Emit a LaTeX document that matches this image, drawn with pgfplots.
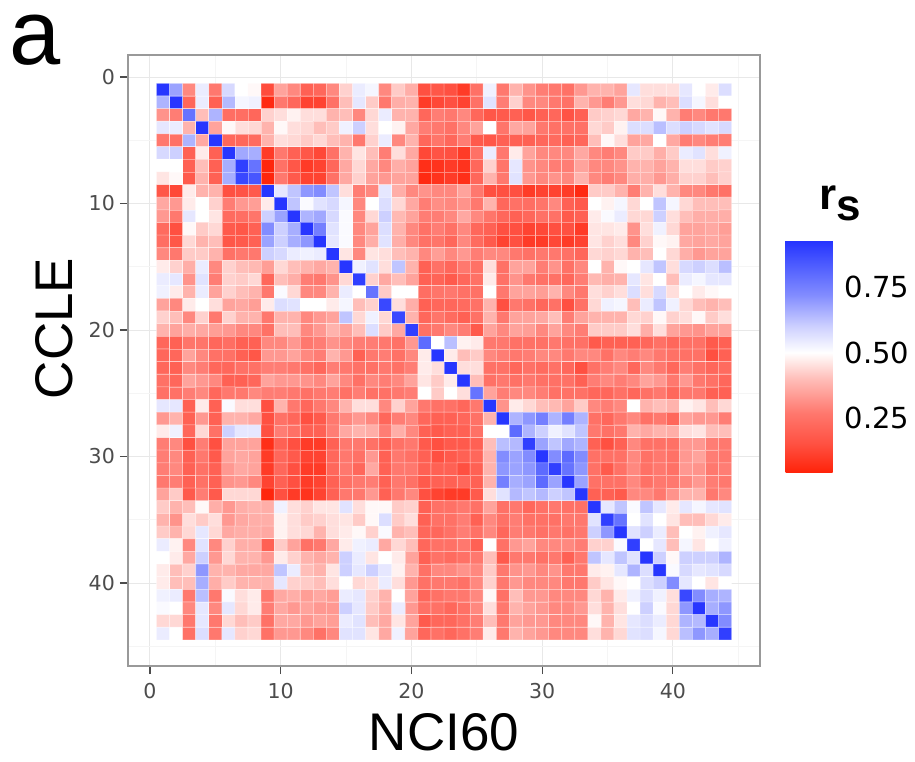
\documentclass[border=0pt]{standalone}
\usepackage{pgfplots}
\pgfplotsset{compat=1.18}
\usepackage{fontspec}
\setmainfont{Liberation Sans}
\newfontfamily\dejavu{DejaVu Sans}
\definecolor{tickgray}{gray}{0.3}
\definecolor{framegray}{gray}{0.6}
\definecolor{gridmaj}{gray}{0.91}
\definecolor{gridmin}{gray}{0.96}
\pgfplotsset{colormap={rs}{rgb255(4pt)=(255,34,8) rgb255(15pt)=(255,80,65) rgb255(27pt)=(255,120,110) rgb255(40pt)=(255,190,185) rgb255(50pt)=(255,255,255) rgb255(60pt)=(205,208,255) rgb255(72pt)=(130,140,255) rgb255(84pt)=(75,90,255) rgb255(93pt)=(35,50,255)}}
\begin{document}
\begin{tikzpicture}[x=1pt,y=1pt]
\useasboundingbox (0,0) rectangle (915,762);
\begin{axis}[
  at={(128pt,96pt)}, anchor=south west,
  scale only axis, width=632pt, height=611pt,
  xmin=-1.68, xmax=46.67, ymin=-1.74, ymax=46.56, y dir=reverse,
  xtick={0,10,20,30,40}, ytick={0,10,20,30,40},
  xticklabels={0,10,20,30,40}, yticklabels={0,10,20,30,40},
  minor xtick={5,15,25,35,45}, minor ytick={5,15,25,35,45},
  grid=both, major grid style={gridmaj, line width=1pt}, minor grid style={gridmin, line width=0.6pt},
  tick align=outside, tick pos=left, major tick length=8pt, minor tick length=0pt,
  major tick style={tickgray, line width=1.1pt},
  axis line style={framegray, line width=1.1pt},
  xticklabel style={font=\dejavu\fontsize{20.5}{24}\selectfont, text=tickgray, anchor=north, inner sep=0pt, yshift=-9pt},
  yticklabel style={font=\dejavu\fontsize{20.5}{24}\selectfont, text=tickgray, anchor=east, inner sep=0pt, xshift=-5pt},
  xlabel={NCI60}, ylabel={CCLE},
  xlabel style={at={(axis description cs:0.5,0)}, anchor=base, yshift=-84pt, inner sep=0pt, font=\fontsize{53}{60}\selectfont},
  ylabel style={at={(axis description cs:0,0.5)}, anchor=base, yshift=56pt, xshift=32pt, inner sep=0pt, font=\fontsize{53}{60}\selectfont},
  colorbar, colormap name=rs, point meta min=0.04, point meta max=0.93,
  colorbar/width=47pt,
  colorbar style={
    at={(parent axis.north east)}, anchor=north west, xshift=17pt, yshift=-185pt,
    scale only axis=true, width=47pt, height=233pt,
    ytick={0.25,0.5,0.75}, yticklabels={0.25,0.50,0.75},
    yticklabel style={font=\dejavu\fontsize{29}{34}\selectfont, text=black, anchor=west, inner sep=0pt, xshift=12pt},
    axis line style={draw=none}, major tick length=0pt,
  },
]
\addplot[matrix plot*, draw=white, draw opacity=0.4, line width=0.6pt, mesh/cols=44, point meta=explicit]
 table[header=false, row sep=\\, x expr={\coordindex-44*floor((\coordindex+0.5)/44)+1}, y expr={floor((\coordindex+0.5)/44)+1}, meta index=0] {
0.92\\0.68\\0.3\\0.54\\0.27\\0.58\\0.5\\0.49\\0.14\\0.35\\0.3\\0.2\\0.22\\0.3\\0.43\\0.54\\0.52\\0.3\\0.42\\0.37\\0.15\\0.17\\0.15\\0.1\\0.25\\0.53\\0.27\\0.38\\0.32\\0.28\\0.27\\0.25\\0.33\\0.38\\0.38\\0.35\\0.55\\0.45\\0.45\\0.45\\0.55\\0.5\\0.47\\0.57\\
0.65\\0.92\\0.22\\0.54\\0.2\\0.64\\0.52\\0.53\\0.06\\0.27\\0.22\\0.12\\0.12\\0.25\\0.4\\0.55\\0.42\\0.27\\0.37\\0.38\\0.1\\0.13\\0.15\\0.12\\0.25\\0.56\\0.28\\0.43\\0.3\\0.3\\0.27\\0.25\\0.38\\0.33\\0.28\\0.33\\0.45\\0.44\\0.38\\0.4\\0.57\\0.52\\0.45\\0.5\\
0.32\\0.28\\0.78\\0.4\\0.65\\0.24\\0.24\\0.22\\0.43\\0.45\\0.48\\0.45\\0.45\\0.38\\0.4\\0.3\\0.44\\0.54\\0.38\\0.38\\0.22\\0.28\\0.27\\0.3\\0.22\\0.17\\0.18\\0.2\\0.17\\0.2\\0.22\\0.16\\0.2\\0.42\\0.43\\0.44\\0.36\\0.38\\0.49\\0.38\\0.28\\0.3\\0.27\\0.27\\
0.55\\0.54\\0.38\\0.92\\0.35\\0.49\\0.45\\0.44\\0.38\\0.49\\0.45\\0.44\\0.4\\0.42\\0.53\\0.6\\0.45\\0.5\\0.48\\0.36\\0.28\\0.27\\0.25\\0.3\\0.35\\0.5\\0.26\\0.36\\0.35\\0.27\\0.25\\0.25\\0.25\\0.44\\0.42\\0.48\\0.57\\0.57\\0.63\\0.57\\0.6\\0.58\\0.56\\0.58\\
0.27\\0.25\\0.65\\0.36\\0.92\\0.22\\0.22\\0.23\\0.38\\0.45\\0.44\\0.42\\0.44\\0.4\\0.38\\0.27\\0.43\\0.54\\0.3\\0.38\\0.22\\0.26\\0.22\\0.28\\0.18\\0.17\\0.2\\0.2\\0.2\\0.22\\0.23\\0.2\\0.22\\0.4\\0.49\\0.45\\0.35\\0.36\\0.5\\0.36\\0.28\\0.3\\0.28\\0.28\\
0.58\\0.6\\0.2\\0.47\\0.2\\0.92\\0.67\\0.66\\0.1\\0.27\\0.2\\0.17\\0.13\\0.25\\0.38\\0.46\\0.4\\0.28\\0.45\\0.36\\0.13\\0.16\\0.15\\0.1\\0.25\\0.54\\0.27\\0.47\\0.35\\0.3\\0.3\\0.3\\0.36\\0.3\\0.28\\0.3\\0.42\\0.42\\0.37\\0.42\\0.54\\0.56\\0.45\\0.53\\
0.5\\0.5\\0.2\\0.4\\0.2\\0.66\\0.9\\0.78\\0.05\\0.25\\0.17\\0.1\\0.12\\0.22\\0.36\\0.44\\0.36\\0.3\\0.37\\0.35\\0.07\\0.08\\0.1\\0.08\\0.22\\0.43\\0.26\\0.55\\0.32\\0.3\\0.28\\0.28\\0.35\\0.3\\0.3\\0.32\\0.38\\0.38\\0.35\\0.38\\0.45\\0.45\\0.42\\0.43\\
0.46\\0.49\\0.18\\0.38\\0.2\\0.66\\0.88\\0.85\\0.05\\0.27\\0.18\\0.12\\0.12\\0.25\\0.36\\0.43\\0.35\\0.33\\0.35\\0.35\\0.06\\0.08\\0.1\\0.07\\0.22\\0.38\\0.27\\0.56\\0.33\\0.3\\0.32\\0.3\\0.38\\0.3\\0.28\\0.3\\0.37\\0.37\\0.33\\0.37\\0.43\\0.43\\0.4\\0.43\\
0.17\\0.13\\0.47\\0.38\\0.38\\0.15\\0.16\\0.18\\0.92\\0.55\\0.62\\0.7\\0.72\\0.62\\0.45\\0.28\\0.3\\0.55\\0.37\\0.3\\0.32\\0.3\\0.3\\0.35\\0.27\\0.15\\0.15\\0.15\\0.1\\0.12\\0.12\\0.1\\0.06\\0.42\\0.42\\0.38\\0.28\\0.38\\0.45\\0.38\\0.3\\0.3\\0.27\\0.25\\
0.36\\0.33\\0.47\\0.5\\0.43\\0.28\\0.33\\0.34\\0.47\\0.92\\0.62\\0.51\\0.56\\0.58\\0.52\\0.3\\0.5\\0.57\\0.44\\0.36\\0.28\\0.31\\0.3\\0.32\\0.27\\0.38\\0.22\\0.25\\0.24\\0.26\\0.3\\0.2\\0.18\\0.5\\0.48\\0.52\\0.44\\0.5\\0.62\\0.52\\0.44\\0.4\\0.4\\0.4\\
0.33\\0.27\\0.55\\0.5\\0.46\\0.23\\0.24\\0.26\\0.6\\0.68\\0.92\\0.65\\0.67\\0.58\\0.51\\0.3\\0.44\\0.6\\0.39\\0.35\\0.28\\0.28\\0.3\\0.36\\0.3\\0.26\\0.22\\0.2\\0.22\\0.25\\0.25\\0.18\\0.2\\0.47\\0.51\\0.54\\0.44\\0.44\\0.6\\0.45\\0.4\\0.37\\0.37\\0.37\\
0.23\\0.15\\0.49\\0.42\\0.44\\0.18\\0.17\\0.2\\0.72\\0.6\\0.66\\0.92\\0.75\\0.56\\0.51\\0.3\\0.35\\0.57\\0.38\\0.3\\0.25\\0.28\\0.25\\0.3\\0.22\\0.2\\0.15\\0.15\\0.12\\0.13\\0.15\\0.15\\0.1\\0.46\\0.46\\0.47\\0.32\\0.45\\0.53\\0.44\\0.35\\0.35\\0.36\\0.34\\
0.24\\0.17\\0.44\\0.38\\0.4\\0.17\\0.18\\0.2\\0.68\\0.6\\0.66\\0.7\\0.92\\0.55\\0.51\\0.3\\0.37\\0.56\\0.37\\0.3\\0.25\\0.26\\0.22\\0.3\\0.23\\0.18\\0.12\\0.15\\0.1\\0.1\\0.13\\0.1\\0.12\\0.46\\0.43\\0.45\\0.3\\0.43\\0.49\\0.48\\0.36\\0.35\\0.36\\0.35\\
0.3\\0.27\\0.42\\0.42\\0.38\\0.25\\0.27\\0.27\\0.6\\0.58\\0.54\\0.53\\0.54\\0.92\\0.46\\0.3\\0.46\\0.45\\0.4\\0.38\\0.3\\0.34\\0.3\\0.33\\0.28\\0.3\\0.3\\0.27\\0.25\\0.27\\0.27\\0.25\\0.22\\0.44\\0.43\\0.44\\0.38\\0.4\\0.5\\0.44\\0.37\\0.33\\0.35\\0.35\\
0.47\\0.43\\0.37\\0.54\\0.3\\0.43\\0.4\\0.39\\0.34\\0.44\\0.4\\0.38\\0.36\\0.38\\0.92\\0.53\\0.56\\0.45\\0.62\\0.38\\0.2\\0.25\\0.22\\0.27\\0.25\\0.45\\0.25\\0.35\\0.35\\0.28\\0.32\\0.25\\0.3\\0.5\\0.38\\0.49\\0.5\\0.55\\0.62\\0.45\\0.58\\0.6\\0.57\\0.63\\
0.54\\0.55\\0.32\\0.56\\0.28\\0.43\\0.42\\0.44\\0.22\\0.4\\0.37\\0.28\\0.27\\0.32\\0.44\\0.9\\0.43\\0.36\\0.4\\0.35\\0.2\\0.21\\0.18\\0.22\\0.25\\0.47\\0.25\\0.32\\0.27\\0.25\\0.25\\0.22\\0.28\\0.39\\0.37\\0.38\\0.55\\0.46\\0.5\\0.4\\0.54\\0.52\\0.55\\0.55\\
0.53\\0.47\\0.38\\0.54\\0.35\\0.43\\0.4\\0.38\\0.27\\0.51\\0.44\\0.3\\0.3\\0.38\\0.54\\0.5\\0.78\\0.42\\0.5\\0.5\\0.24\\0.26\\0.27\\0.25\\0.25\\0.5\\0.27\\0.35\\0.35\\0.34\\0.38\\0.3\\0.27\\0.45\\0.43\\0.45\\0.57\\0.45\\0.58\\0.45\\0.5\\0.47\\0.49\\0.5\\
0.35\\0.3\\0.47\\0.5\\0.45\\0.35\\0.36\\0.34\\0.47\\0.57\\0.56\\0.5\\0.5\\0.47\\0.52\\0.4\\0.43\\0.88\\0.45\\0.37\\0.2\\0.22\\0.22\\0.23\\0.25\\0.38\\0.15\\0.27\\0.25\\0.22\\0.25\\0.15\\0.25\\0.44\\0.53\\0.52\\0.4\\0.54\\0.62\\0.53\\0.44\\0.4\\0.38\\0.4\\
0.43\\0.4\\0.3\\0.43\\0.27\\0.43\\0.38\\0.38\\0.27\\0.38\\0.38\\0.3\\0.33\\0.35\\0.62\\0.44\\0.53\\0.44\\0.88\\0.38\\0.22\\0.26\\0.23\\0.2\\0.25\\0.38\\0.27\\0.35\\0.35\\0.36\\0.4\\0.28\\0.35\\0.38\\0.38\\0.38\\0.44\\0.43\\0.49\\0.43\\0.45\\0.49\\0.42\\0.45\\
0.38\\0.35\\0.37\\0.36\\0.34\\0.33\\0.3\\0.3\\0.25\\0.4\\0.4\\0.3\\0.33\\0.38\\0.35\\0.4\\0.57\\0.42\\0.36\\0.9\\0.25\\0.27\\0.3\\0.28\\0.18\\0.35\\0.3\\0.35\\0.34\\0.3\\0.35\\0.3\\0.28\\0.42\\0.42\\0.42\\0.45\\0.37\\0.45\\0.35\\0.33\\0.32\\0.35\\0.35\\
0.22\\0.2\\0.26\\0.26\\0.22\\0.24\\0.2\\0.2\\0.3\\0.3\\0.33\\0.27\\0.28\\0.32\\0.3\\0.28\\0.28\\0.27\\0.25\\0.33\\0.8\\0.5\\0.63\\0.48\\0.47\\0.27\\0.27\\0.25\\0.25\\0.25\\0.27\\0.25\\0.25\\0.18\\0.2\\0.2\\0.2\\0.22\\0.25\\0.22\\0.25\\0.25\\0.18\\0.2\\
0.22\\0.22\\0.35\\0.3\\0.25\\0.25\\0.2\\0.17\\0.33\\0.33\\0.35\\0.3\\0.28\\0.38\\0.33\\0.2\\0.27\\0.28\\0.25\\0.3\\0.47\\0.92\\0.47\\0.4\\0.42\\0.3\\0.28\\0.27\\0.28\\0.3\\0.3\\0.27\\0.3\\0.3\\0.25\\0.3\\0.28\\0.3\\0.27\\0.25\\0.25\\0.25\\0.15\\0.2\\
0.22\\0.2\\0.3\\0.28\\0.22\\0.22\\0.25\\0.25\\0.28\\0.28\\0.27\\0.25\\0.22\\0.28\\0.27\\0.25\\0.25\\0.27\\0.25\\0.28\\0.47\\0.45\\0.92\\0.45\\0.45\\0.25\\0.25\\0.22\\0.25\\0.23\\0.25\\0.22\\0.15\\0.25\\0.28\\0.3\\0.22\\0.3\\0.27\\0.22\\0.28\\0.25\\0.22\\0.23\\
0.25\\0.22\\0.35\\0.33\\0.3\\0.2\\0.2\\0.22\\0.35\\0.33\\0.33\\0.32\\0.3\\0.35\\0.3\\0.25\\0.3\\0.28\\0.3\\0.35\\0.46\\0.42\\0.47\\0.92\\0.4\\0.25\\0.27\\0.25\\0.27\\0.25\\0.25\\0.25\\0.2\\0.28\\0.3\\0.28\\0.3\\0.35\\0.33\\0.27\\0.33\\0.27\\0.25\\0.22\\
0.25\\0.25\\0.28\\0.3\\0.22\\0.27\\0.27\\0.3\\0.28\\0.28\\0.27\\0.25\\0.27\\0.28\\0.25\\0.28\\0.25\\0.25\\0.27\\0.28\\0.5\\0.42\\0.5\\0.45\\0.78\\0.35\\0.28\\0.3\\0.3\\0.28\\0.25\\0.25\\0.25\\0.22\\0.22\\0.25\\0.22\\0.25\\0.27\\0.22\\0.27\\0.27\\0.2\\0.2\\
0.55\\0.55\\0.2\\0.47\\0.2\\0.51\\0.45\\0.45\\0.15\\0.38\\0.27\\0.22\\0.27\\0.3\\0.38\\0.45\\0.45\\0.3\\0.43\\0.35\\0.27\\0.25\\0.25\\0.22\\0.27\\0.92\\0.32\\0.47\\0.44\\0.4\\0.39\\0.35\\0.42\\0.3\\0.28\\0.3\\0.5\\0.38\\0.4\\0.38\\0.48\\0.46\\0.4\\0.44\\
0.33\\0.38\\0.2\\0.33\\0.2\\0.38\\0.38\\0.36\\0.15\\0.25\\0.22\\0.15\\0.18\\0.27\\0.3\\0.33\\0.3\\0.22\\0.28\\0.3\\0.22\\0.2\\0.2\\0.22\\0.25\\0.38\\0.92\\0.65\\0.7\\0.75\\0.65\\0.75\\0.65\\0.25\\0.22\\0.27\\0.3\\0.25\\0.27\\0.22\\0.35\\0.33\\0.33\\0.28\\
0.47\\0.53\\0.22\\0.44\\0.25\\0.6\\0.55\\0.55\\0.15\\0.28\\0.25\\0.2\\0.2\\0.28\\0.36\\0.38\\0.37\\0.28\\0.37\\0.3\\0.2\\0.18\\0.2\\0.2\\0.25\\0.5\\0.5\\0.8\\0.65\\0.6\\0.53\\0.56\\0.62\\0.27\\0.25\\0.27\\0.38\\0.36\\0.38\\0.37\\0.45\\0.46\\0.4\\0.4\\
0.28\\0.3\\0.15\\0.28\\0.15\\0.35\\0.35\\0.35\\0.07\\0.2\\0.15\\0.1\\0.1\\0.2\\0.27\\0.27\\0.25\\0.2\\0.25\\0.27\\0.18\\0.15\\0.18\\0.18\\0.2\\0.4\\0.63\\0.64\\0.9\\0.68\\0.62\\0.67\\0.65\\0.2\\0.15\\0.2\\0.3\\0.25\\0.25\\0.25\\0.33\\0.33\\0.28\\0.27\\
0.28\\0.3\\0.2\\0.27\\0.18\\0.35\\0.36\\0.35\\0.1\\0.22\\0.18\\0.12\\0.12\\0.22\\0.27\\0.25\\0.33\\0.2\\0.27\\0.25\\0.2\\0.15\\0.18\\0.2\\0.22\\0.38\\0.72\\0.68\\0.72\\0.92\\0.72\\0.8\\0.72\\0.25\\0.25\\0.25\\0.3\\0.25\\0.27\\0.25\\0.33\\0.35\\0.28\\0.27\\
0.28\\0.3\\0.2\\0.25\\0.2\\0.33\\0.36\\0.35\\0.1\\0.22\\0.15\\0.1\\0.1\\0.22\\0.27\\0.22\\0.36\\0.2\\0.27\\0.27\\0.2\\0.2\\0.2\\0.15\\0.2\\0.38\\0.7\\0.68\\0.7\\0.8\\0.9\\0.78\\0.7\\0.25\\0.18\\0.25\\0.3\\0.25\\0.27\\0.25\\0.33\\0.32\\0.27\\0.28\\
0.27\\0.28\\0.2\\0.25\\0.2\\0.32\\0.33\\0.3\\0.12\\0.2\\0.15\\0.1\\0.12\\0.2\\0.25\\0.27\\0.28\\0.2\\0.27\\0.25\\0.18\\0.2\\0.2\\0.22\\0.2\\0.38\\0.75\\0.66\\0.68\\0.8\\0.68\\0.92\\0.68\\0.25\\0.25\\0.25\\0.3\\0.25\\0.27\\0.27\\0.3\\0.33\\0.28\\0.27\\
0.35\\0.42\\0.18\\0.28\\0.18\\0.44\\0.44\\0.44\\0.05\\0.15\\0.1\\0.08\\0.12\\0.2\\0.27\\0.27\\0.33\\0.2\\0.27\\0.3\\0.15\\0.12\\0.1\\0.1\\0.18\\0.45\\0.56\\0.64\\0.62\\0.64\\0.6\\0.62\\0.92\\0.2\\0.2\\0.18\\0.3\\0.3\\0.27\\0.32\\0.38\\0.38\\0.27\\0.3\\
0.42\\0.38\\0.4\\0.49\\0.37\\0.33\\0.37\\0.38\\0.37\\0.53\\0.45\\0.43\\0.46\\0.46\\0.56\\0.45\\0.49\\0.49\\0.42\\0.43\\0.2\\0.25\\0.25\\0.27\\0.25\\0.35\\0.25\\0.27\\0.22\\0.25\\0.27\\0.25\\0.25\\0.92\\0.55\\0.62\\0.51\\0.62\\0.55\\0.47\\0.55\\0.52\\0.55\\0.56\\
0.38\\0.32\\0.45\\0.42\\0.45\\0.33\\0.36\\0.37\\0.37\\0.48\\0.45\\0.42\\0.43\\0.45\\0.46\\0.42\\0.49\\0.57\\0.42\\0.45\\0.2\\0.25\\0.25\\0.28\\0.2\\0.3\\0.25\\0.28\\0.25\\0.25\\0.25\\0.27\\0.27\\0.56\\0.9\\0.78\\0.5\\0.56\\0.5\\0.46\\0.4\\0.4\\0.44\\0.47\\
0.42\\0.38\\0.44\\0.55\\0.44\\0.36\\0.37\\0.37\\0.36\\0.48\\0.45\\0.44\\0.38\\0.45\\0.47\\0.49\\0.43\\0.51\\0.38\\0.4\\0.22\\0.22\\0.25\\0.28\\0.25\\0.3\\0.22\\0.28\\0.27\\0.25\\0.27\\0.25\\0.27\\0.6\\0.7\\0.92\\0.56\\0.6\\0.54\\0.4\\0.5\\0.48\\0.53\\0.55\\
0.54\\0.48\\0.3\\0.56\\0.3\\0.43\\0.37\\0.37\\0.2\\0.42\\0.35\\0.25\\0.27\\0.36\\0.47\\0.53\\0.54\\0.36\\0.44\\0.4\\0.22\\0.25\\0.25\\0.27\\0.2\\0.5\\0.25\\0.33\\0.35\\0.3\\0.3\\0.3\\0.28\\0.43\\0.43\\0.51\\0.9\\0.5\\0.55\\0.4\\0.52\\0.46\\0.5\\0.53\\
0.5\\0.47\\0.36\\0.6\\0.33\\0.44\\0.38\\0.38\\0.33\\0.47\\0.43\\0.38\\0.36\\0.38\\0.6\\0.54\\0.46\\0.5\\0.47\\0.35\\0.2\\0.25\\0.23\\0.25\\0.27\\0.4\\0.18\\0.27\\0.27\\0.25\\0.27\\0.2\\0.27\\0.62\\0.55\\0.62\\0.56\\0.92\\0.6\\0.49\\0.6\\0.6\\0.6\\0.65\\
0.47\\0.4\\0.43\\0.7\\0.38\\0.38\\0.36\\0.36\\0.36\\0.62\\0.54\\0.4\\0.38\\0.46\\0.6\\0.55\\0.6\\0.55\\0.48\\0.38\\0.25\\0.3\\0.3\\0.32\\0.3\\0.42\\0.27\\0.32\\0.33\\0.3\\0.32\\0.27\\0.27\\0.47\\0.48\\0.55\\0.65\\0.57\\0.92\\0.51\\0.58\\0.55\\0.56\\0.58\\
0.47\\0.4\\0.4\\0.66\\0.37\\0.42\\0.38\\0.38\\0.38\\0.55\\0.43\\0.42\\0.4\\0.45\\0.5\\0.44\\0.45\\0.54\\0.45\\0.33\\0.25\\0.27\\0.27\\0.25\\0.3\\0.43\\0.27\\0.33\\0.3\\0.3\\0.3\\0.27\\0.27\\0.42\\0.46\\0.49\\0.5\\0.57\\0.6\\0.72\\0.55\\0.5\\0.46\\0.5\\
0.53\\0.54\\0.27\\0.63\\0.27\\0.51\\0.45\\0.47\\0.27\\0.36\\0.37\\0.34\\0.36\\0.34\\0.54\\0.55\\0.43\\0.38\\0.5\\0.35\\0.22\\0.25\\0.27\\0.27\\0.3\\0.49\\0.25\\0.4\\0.33\\0.33\\0.3\\0.3\\0.3\\0.44\\0.38\\0.47\\0.53\\0.57\\0.53\\0.45\\0.88\\0.72\\0.66\\0.65\\
0.51\\0.5\\0.3\\0.55\\0.3\\0.55\\0.44\\0.47\\0.28\\0.36\\0.33\\0.35\\0.33\\0.33\\0.6\\0.55\\0.42\\0.37\\0.54\\0.33\\0.25\\0.25\\0.22\\0.25\\0.3\\0.45\\0.27\\0.38\\0.35\\0.33\\0.3\\0.3\\0.33\\0.45\\0.38\\0.45\\0.5\\0.6\\0.51\\0.44\\0.7\\0.92\\0.66\\0.7\\
0.44\\0.44\\0.27\\0.55\\0.27\\0.44\\0.4\\0.42\\0.25\\0.36\\0.36\\0.33\\0.35\\0.34\\0.54\\0.56\\0.4\\0.36\\0.46\\0.35\\0.18\\0.22\\0.22\\0.25\\0.28\\0.4\\0.27\\0.35\\0.33\\0.33\\0.3\\0.3\\0.3\\0.49\\0.38\\0.46\\0.55\\0.57\\0.54\\0.44\\0.65\\0.64\\0.92\\0.72\\
0.54\\0.5\\0.25\\0.57\\0.27\\0.55\\0.43\\0.44\\0.25\\0.33\\0.33\\0.3\\0.25\\0.3\\0.56\\0.56\\0.46\\0.36\\0.53\\0.35\\0.22\\0.25\\0.22\\0.25\\0.28\\0.47\\0.27\\0.38\\0.35\\0.33\\0.3\\0.3\\0.3\\0.45\\0.38\\0.44\\0.56\\0.57\\0.52\\0.44\\0.63\\0.7\\0.66\\0.9\\
};
\end{axis}
\node[anchor=base west, inner sep=0pt, font=\fontsize{92}{100}\selectfont] at (9.5,697) {a};
\node[anchor=base west, inner sep=0pt, font=\fontsize{44}{50}\selectfont\bfseries] at (819,552) {r\raisebox{-11pt}{s}};
\end{tikzpicture}
\end{document}
